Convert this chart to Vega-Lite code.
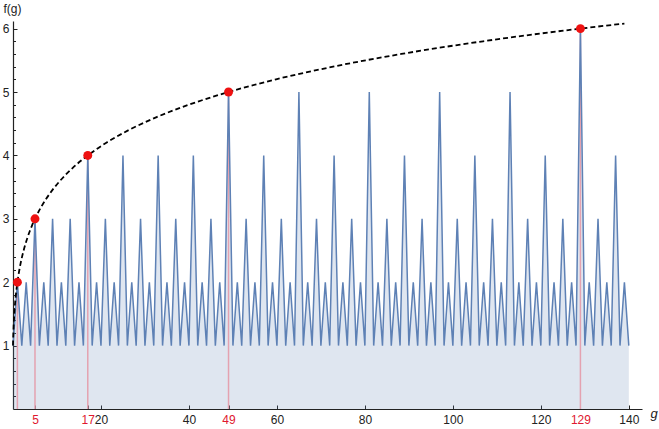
{
  "$schema": "https://vega.github.io/schema/vega-lite/v6.json",
  "width": 629,
  "height": 388,
  "autosize": {"type": "none"},
  "padding": {"left": 13, "top": 21, "right": 17, "bottom": 20},
  "background": "white",
  "config": {"view": {"stroke": null}, "font": "Liberation Sans", "axis": {"labelOverlap": false, "labelFlush": false, "labelBound": false}},
  "datasets": {
    "seq": [
      {"g":0,"f":1},{"g":1,"f":2},{"g":2,"f":1},{"g":3,"f":2},{"g":4,"f":1},{"g":5,"f":3},{"g":6,"f":1},{"g":7,"f":2},{"g":8,"f":1},{"g":9,"f":3},
      {"g":10,"f":1},{"g":11,"f":2},{"g":12,"f":1},{"g":13,"f":3},{"g":14,"f":1},{"g":15,"f":2},{"g":16,"f":1},{"g":17,"f":4},{"g":18,"f":1},{"g":19,"f":2},
      {"g":20,"f":1},{"g":21,"f":3},{"g":22,"f":1},{"g":23,"f":2},{"g":24,"f":1},{"g":25,"f":4},{"g":26,"f":1},{"g":27,"f":2},{"g":28,"f":1},{"g":29,"f":3},
      {"g":30,"f":1},{"g":31,"f":2},{"g":32,"f":1},{"g":33,"f":4},{"g":34,"f":1},{"g":35,"f":2},{"g":36,"f":1},{"g":37,"f":3},{"g":38,"f":1},{"g":39,"f":2},
      {"g":40,"f":1},{"g":41,"f":4},{"g":42,"f":1},{"g":43,"f":2},{"g":44,"f":1},{"g":45,"f":3},{"g":46,"f":1},{"g":47,"f":2},{"g":48,"f":1},{"g":49,"f":5},
      {"g":50,"f":1},{"g":51,"f":2},{"g":52,"f":1},{"g":53,"f":3},{"g":54,"f":1},{"g":55,"f":2},{"g":56,"f":1},{"g":57,"f":4},{"g":58,"f":1},{"g":59,"f":2},
      {"g":60,"f":1},{"g":61,"f":3},{"g":62,"f":1},{"g":63,"f":2},{"g":64,"f":1},{"g":65,"f":5},{"g":66,"f":1},{"g":67,"f":2},{"g":68,"f":1},{"g":69,"f":3},
      {"g":70,"f":1},{"g":71,"f":2},{"g":72,"f":1},{"g":73,"f":4},{"g":74,"f":1},{"g":75,"f":2},{"g":76,"f":1},{"g":77,"f":3},{"g":78,"f":1},{"g":79,"f":2},
      {"g":80,"f":1},{"g":81,"f":5},{"g":82,"f":1},{"g":83,"f":2},{"g":84,"f":1},{"g":85,"f":3},{"g":86,"f":1},{"g":87,"f":2},{"g":88,"f":1},{"g":89,"f":4},
      {"g":90,"f":1},{"g":91,"f":2},{"g":92,"f":1},{"g":93,"f":3},{"g":94,"f":1},{"g":95,"f":2},{"g":96,"f":1},{"g":97,"f":5},{"g":98,"f":1},{"g":99,"f":2},
      {"g":100,"f":1},{"g":101,"f":3},{"g":102,"f":1},{"g":103,"f":2},{"g":104,"f":1},{"g":105,"f":4},{"g":106,"f":1},{"g":107,"f":2},{"g":108,"f":1},{"g":109,"f":3},
      {"g":110,"f":1},{"g":111,"f":2},{"g":112,"f":1},{"g":113,"f":5},{"g":114,"f":1},{"g":115,"f":2},{"g":116,"f":1},{"g":117,"f":3},{"g":118,"f":1},{"g":119,"f":2},
      {"g":120,"f":1},{"g":121,"f":4},{"g":122,"f":1},{"g":123,"f":2},{"g":124,"f":1},{"g":125,"f":3},{"g":126,"f":1},{"g":127,"f":2},{"g":128,"f":1},{"g":129,"f":6},
      {"g":130,"f":1},{"g":131,"f":2},{"g":132,"f":1},{"g":133,"f":3},{"g":134,"f":1},{"g":135,"f":2},{"g":136,"f":1},{"g":137,"f":4},{"g":138,"f":1},{"g":139,"f":2},
      {"g":140,"f":1}
    ],
    "curve": [
      {"g":0,"f":1},{"g":0.035,"f":1.1},{"g":0.081,"f":1.2},{"g":0.138,"f":1.3},{"g":0.208,"f":1.4},{"g":0.293,"f":1.5},
      {"g":0.394,"f":1.6},{"g":0.513,"f":1.7},{"g":0.652,"f":1.8},{"g":0.813,"f":1.9},{"g":1,"f":2},{"g":1.214,"f":2.1},
      {"g":1.459,"f":2.2},{"g":1.739,"f":2.3},{"g":2.056,"f":2.4},{"g":2.414,"f":2.5},{"g":2.819,"f":2.6},{"g":3.274,"f":2.7},
      {"g":3.786,"f":2.8},{"g":4.359,"f":2.9},{"g":5,"f":3},{"g":6.514,"f":3.2},{"g":8.389,"f":3.4},{"g":10.701,"f":3.6},
      {"g":13.536,"f":3.8},{"g":17,"f":4},{"g":21.218,"f":4.2},{"g":26.335,"f":4.4},{"g":32.527,"f":4.6},{"g":40.0,"f":4.8},
      {"g":49,"f":5},{"g":59.81,"f":5.2},{"g":72.78,"f":5.4},{"g":88.3,"f":5.6},{"g":106.86,"f":5.8},{"g":129,"f":6},{"g":139,"f":6.08}
    ],
    "hits": [
      {"g":1,"f":2},{"g":5,"f":3},{"g":17,"f":4},{"g":49,"f":5},{"g":129,"f":6}
    ]
  },
  "layer": [
    {
      "data": {"name": "seq"},
      "mark": {"type": "area", "color": "#5e81b5", "opacity": 0.2},
      "encoding": {
        "x": {
          "field": "g", "type": "quantitative",
          "scale": {"domain": [0, 143], "nice": false, "zero": false},
          "axis": {
            "title": "g",
            "titleFontStyle": "italic", "titleFontWeight": "normal", "titleFontSize": 13, "titleColor": "#222",
            "titleAlign": "left", "titleBaseline": "alphabetic", "titleAngle": 0,
            "titleX": 637, "titleY": 8,
            "values": [5, 17, 20, 40, 49, 60, 80, 100, 120, 129, 140],
            "tickCount": 100,
            "labelColor": {"condition": {"test": "indexof([5,17,49,129], datum.value) >= 0", "value": "#e0182f"}, "value": "#222"},
            "tickSize": -4,
            "labelFontSize": 12, "labelPadding": 9, "labelOverlap": false, "labelFlush": false, "labelBound": false,
            "grid": false, "domainColor": "#222", "tickColor": "#222", "domainWidth": 1.2
          }
        },
        "y": {
          "field": "f", "type": "quantitative",
          "scale": {"domain": [0, 6.12], "nice": false, "zero": false},
          "axis": {
            "title": "f(g)",
            "titleAngle": 0, "titleAlign": "left", "titleBaseline": "alphabetic",
            "titleX": -10, "titleY": -9, "titleFontSize": 12, "titleFontWeight": "normal", "titleColor": "#222",
            "values": [0.2,0.4,0.6,0.8,1,1.2,1.4,1.6,1.8,2,2.2,2.4,2.6,2.8,3,3.2,3.4,3.6,3.8,4,4.2,4.4,4.6,4.8,5,5.2,5.4,5.6,5.8,6],
            "tickCount": 100,
            "labelExpr": "abs(datum.value - round(datum.value)) < 0.01 ? format(datum.value, 'd') : ''",
            "tickSize": -4,
            "tickDash": {"condition": {"test": "abs(datum.value - round(datum.value)) < 0.01", "value": []}, "value": [2.5, 20]},
            "labelFontSize": 12, "labelPadding": 8, "labelOverlap": false, "labelFlush": false, "labelBound": false,
            "grid": false, "domainColor": "#222", "tickColor": "#222", "labelColor": "#222", "domainWidth": 1.2
          }
        }
      }
    },
    {
      "data": {"name": "hits"},
      "mark": {"type": "rule", "color": "#e4a2b0", "strokeWidth": 1.5},
      "encoding": {
        "x": {"field": "g", "type": "quantitative"},
        "y": {"field": "f", "type": "quantitative"},
        "y2": {"datum": 0}
      }
    },
    {
      "data": {"name": "seq"},
      "mark": {"type": "line", "color": "#5e81b5", "strokeWidth": 1.5},
      "encoding": {
        "x": {"field": "g", "type": "quantitative"},
        "y": {"field": "f", "type": "quantitative"}
      }
    },
    {
      "data": {"name": "curve"},
      "mark": {"type": "line", "color": "black", "strokeWidth": 1.8, "strokeDash": [5, 3], "interpolate": "monotone"},
      "encoding": {
        "x": {"field": "g", "type": "quantitative"},
        "y": {"field": "f", "type": "quantitative"},
        "order": {"field": "f", "type": "quantitative"}
      }
    },
    {
      "data": {"name": "hits"},
      "mark": {"type": "point", "filled": true, "color": "#ee1111", "opacity": 1, "size": 80},
      "encoding": {
        "x": {"field": "g", "type": "quantitative"},
        "y": {"field": "f", "type": "quantitative"}
      }
    }
  ]
}
